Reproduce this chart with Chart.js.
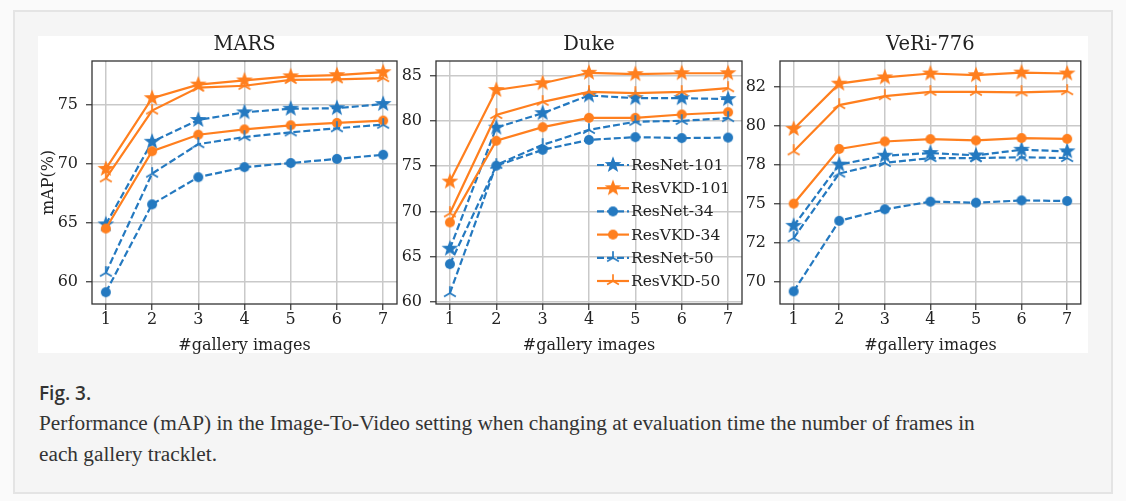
<!DOCTYPE html>
<html>
<head>
<meta charset="utf-8">
<script src="https://cdn.jsdelivr.net/npm/chart.js@4.4.1/dist/chart.umd.min.js"></script>
<style>
    html, body { margin: 0; padding: 0; background: #fafafa; }
    body { width: 1126px; height: 501px; position: relative; overflow: hidden; }
    #box { position: absolute; left: 13px; top: 10px; width: 1096px; height: 480px; background: #f5f5f5; border: 2px solid #e4e4e4; }
    #fig { position: absolute; left: 38px; top: 36px; width: 1050px; height: 317px; background: #fff; }
    canvas { position: absolute; }
    #figlabel { position: absolute; left: 39px; top: 381px; font: 600 19px/24px "Open Sans"; color: #333; }
    #caption { position: absolute; left: 39px; top: 408px; font: 21.3px/31px "Liberation Serif"; color: #333; white-space: nowrap; }
</style>
</head>
<body>
<div id="box"></div>
<div id="fig"></div>
<canvas id="mars" width="367" height="323" style="left:38px;top:32px"></canvas>
<canvas id="duke" width="354" height="323" style="left:396px;top:32px"></canvas>
<canvas id="veri" width="348" height="323" style="left:740px;top:32px"></canvas>
<div id="figlabel">Fig. 3.</div>
<div id="caption">Performance (mAP) in the Image-To-Video setting when changing at evaluation time the number of frames in<br>each gallery tracklet.</div>

<script>
const galleryImages = [1, 2, 3, 4, 5, 6, 7];
const seriesNames = ["ResNet-101", "ResVKD-101", "ResNet-34", "ResVKD-34", "ResNet-50", "ResVKD-50"];

// one row per series, same order as seriesNames
const marsSeries = [
    [64.9, 71.9, 73.75, 74.4, 74.7, 74.75, 75.1],
    [69.6, 75.6, 76.75, 77.1, 77.45, 77.55, 77.8],
    [59.15, 66.6, 68.9, 69.75, 70.1, 70.45, 70.8],
    [64.55, 71.1, 72.5, 72.95, 73.3, 73.5, 73.7],
    [60.8, 69.2, 71.7, 72.3, 72.7, 73.05, 73.35],
    [68.8, 74.55, 76.5, 76.65, 77.15, 77.2, 77.3]
];
const dukeSeries = [
    [65.9, 79.25, 80.85, 82.8, 82.5, 82.5, 82.4],
    [73.3, 83.4, 84.15, 85.3, 85.15, 85.25, 85.25],
    [64.2, 75.05, 76.8, 77.9, 78.2, 78.1, 78.15],
    [68.8, 77.8, 79.3, 80.33, 80.33, 80.7, 80.95],
    [61.0, 75.15, 77.35, 79.0, 79.9, 80.0, 80.3],
    [69.8, 80.65, 82.1, 83.2, 83.05, 83.2, 83.6]
];
const veriSeries = [
    [73.6, 77.52, 78.09, 78.26, 78.11, 78.47, 78.37],
    [79.8, 82.7, 83.1, 83.35, 83.24, 83.41, 83.35],
    [69.41, 73.92, 74.66, 75.15, 75.08, 75.23, 75.19],
    [75.02, 78.52, 79.0, 79.15, 79.07, 79.22, 79.17],
    [72.82, 76.95, 77.63, 77.94, 77.94, 77.99, 77.94],
    [78.37, 81.33, 81.9, 82.18, 82.18, 82.14, 82.22]
];

const marsYTicks = [60, 65, 70, 75];
const marsYLabels = ["60", "65", "70", "75"];
const dukeYTicks = [60, 65, 70, 75, 80, 85];
const dukeYLabels = ["60", "65", "70", "75", "80", "85"];
const veriYTicks = [70, 72.5, 75, 77.5, 80, 82.5];
const veriYLabels = ["70", "72", "75", "78", "80", "82"];

const BLUE = "#2479c0";
const ORANGE = "#ff7f1e";
const TEXT = "#222";
const SERIF = "DejaVu Serif";

function makeMarker(kind, color) {
    const s = kind === "star" ? 20 : 14;
    const c = document.createElement("canvas");
    c.width = s;
    c.height = s;
    const g = c.getContext("2d");
    g.translate(s / 2, s / 2);
    g.fillStyle = color;
    g.strokeStyle = color;
    if (kind === "star") {
        g.beginPath();
        for (let i = 0; i < 10; i++) {
            const r = i % 2 ? 3.6 : 8.8;
            const a = -Math.PI / 2 + i * Math.PI / 5;
            g.lineTo(r * Math.cos(a), r * Math.sin(a));
        }
        g.closePath();
        g.fill();
    } else if (kind === "circle") {
        g.beginPath();
        g.arc(0, 0, 5, 0, 2 * Math.PI);
        g.fill();
    } else {
        // tri_up
        g.lineWidth = 1.7;
        g.beginPath();
        [-90, 150, 30].forEach(d => {
            const a = d * Math.PI / 180;
            g.moveTo(0, 0);
            g.lineTo(6.8 * Math.cos(a), 6.8 * Math.sin(a));
        });
        g.stroke();
    }
    return c;
}

function seriesStyle(name) {
    const isNet = name.startsWith("ResNet");
    const color = isNet ? BLUE : ORANGE;
    const kind = name.endsWith("101") ? "star" : name.endsWith("34") ? "circle" : "tri";
    return { color, dash: isNet ? [7, 3] : [], marker: makeMarker(kind, color) };
}
const styles = seriesNames.map(seriesStyle);

const titlePlugin = {
    id: "panelTitle",
    afterDraw(chart, args, opts) {
        const { ctx, chartArea } = chart;
        ctx.save();
        ctx.font = `19.5px "${SERIF}"`;
        ctx.fillStyle = TEXT;
        ctx.textAlign = "center";
        ctx.textBaseline = "middle";
        ctx.fillText(opts.text, (chartArea.left + chartArea.right) / 2, chartArea.top - 16);
        ctx.restore();
    }
};

const framePlugin = {
    id: "frame",
    afterDatasetsDraw(chart) {
        const { ctx, chartArea: a } = chart;
        ctx.save();
        ctx.strokeStyle = "#333";
        ctx.lineWidth = 1.3;
        ctx.strokeRect(a.left, a.top, a.right - a.left, a.bottom - a.top);
        ctx.restore();
    }
};

const legendPlugin = {
    id: "insideLegend",
    afterDraw(chart, args, opts) {
        if (!opts.show) return;
        const { ctx } = chart;
        const x0 = 597 - 396, y0 = 165 - 32;
        ctx.save();
        ctx.font = `15.5px "${SERIF}"`;
        ctx.textBaseline = "middle";
        seriesNames.forEach((name, i) => {
            const st = styles[i];
            const y = y0 + i * 23.2;
            ctx.strokeStyle = st.color;
            ctx.lineWidth = 2.2;
            ctx.setLineDash(st.dash);
            ctx.beginPath();
            ctx.moveTo(x0, y);
            ctx.lineTo(x0 + 32, y);
            ctx.stroke();
            ctx.setLineDash([]);
            ctx.drawImage(st.marker, x0 + 16 - st.marker.width / 2, y - st.marker.height / 2);
            ctx.fillStyle = TEXT;
            ctx.fillText(name, x0 + 34, y + 1);
        });
        ctx.restore();
    }
};

function buildChart(id, title, series, yMin, yMax, yTicks, yLabels, yWidth, padRight, showYTitle, showLegend) {
    const tickFont = { family: SERIF, size: 16 };
    return new Chart(document.getElementById(id), {
        type: "line",
        data: {
            labels: galleryImages,
            datasets: series.map((vals, i) => ({
                label: seriesNames[i],
                data: vals.map((v, k) => ({ x: galleryImages[k], y: v })),
                borderColor: styles[i].color,
                backgroundColor: styles[i].color,
                borderDash: styles[i].dash,
                borderWidth: 2.2,
                pointStyle: styles[i].marker,
                pointRadius: 5,
                tension: 0,
                order: series.length - i
            }))
        },
        options: {
            responsive: false,
            animation: false,
            devicePixelRatio: 1,
            layout: { padding: { top: 29, right: padRight, left: 0, bottom: 0 } },
            plugins: {
                legend: { display: false },
                tooltip: { enabled: false },
                panelTitle: { text: title },
                insideLegend: { show: showLegend }
            },
            scales: {
                x: {
                    type: "linear",
                    min: 0.7,
                    max: 7.3,
                    afterBuildTicks: s => { s.ticks = galleryImages.map(v => ({ value: v })); },
                    afterFit: s => { s.height = 51; },
                    ticks: { font: tickFont, color: TEXT, padding: 0, callback: v => String(v) },
                    grid: { color: "#c9c9c9", lineWidth: 1.5, tickColor: "#333", tickLength: 6, tickWidth: 1.2 },
                    border: { display: false },
                    title: { display: true, text: "#gallery images", font: tickFont, color: TEXT, padding: { top: 0, bottom: 0 } }
                },
                y: {
                    min: yMin,
                    max: yMax,
                    afterBuildTicks: s => { s.ticks = yTicks.map(v => ({ value: v })); },
                    afterFit: s => { s.width = yWidth; },
                    ticks: { font: tickFont, color: TEXT, padding: 8, callback: (v, i) => yLabels[i] },
                    grid: { color: "#c9c9c9", lineWidth: 1.5, tickColor: "#333", tickLength: 6, tickWidth: 1.2 },
                    border: { display: false },
                    title: { display: showYTitle, text: "mAP(%)", font: tickFont, color: TEXT, padding: { top: 1, bottom: 0 } }
                }
            }
        },
        plugins: [titlePlugin, framePlugin, legendPlugin]
    });
}

buildChart("mars", "MARS", marsSeries, 58.15, 78.75, marsYTicks, marsYLabels, 54, 8, true, false);
buildChart("duke", "Duke", dukeSeries, 59.8, 86.6, dukeYTicks, dukeYLabels, 40, 8, false, true);
buildChart("veri", "VeRi-776", veriSeries, 68.6, 84.15, veriYTicks, veriYLabels, 40, 2, false, false);
</script>
</body>
</html>
